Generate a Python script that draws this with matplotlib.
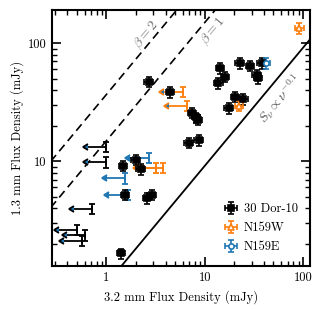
import matplotlib
matplotlib.use('Agg')
import matplotlib.pyplot as plt
import numpy as np
from matplotlib.ticker import FuncFormatter

plt.rcParams['font.family'] = 'serif'
plt.rcParams['font.serif'] = ['cmr10', 'DejaVu Serif']
plt.rcParams['mathtext.fontset'] = 'cm'
plt.rcParams['axes.formatter.use_mathtext'] = True
plt.rcParams['axes.unicode_minus'] = False

# 3.2 mm / 1.3 mm flux densities (mJy), detections
dor_x = [1.48, 2.25, 2.0, 1.56, 2.59, 2.91, 1.41, 2.69, 4.47, 7.5, 8.2, 8.6,
         6.86, 8.67, 14.4, 16.2, 13.8, 22.6, 29.0, 33.9, 35.0, 38.0, 20.5, 24.8, 17.5]
dor_y = [9.2, 8.55, 10.3, 5.2, 4.86, 5.18, 1.66, 47.3, 38.5, 25.6, 23.5, 22.5,
         14.4, 15.1, 61.4, 52.1, 45.8, 67.6, 64.2, 54.0, 50.5, 67.6, 35.2, 33.5, 28.1]
n159w_x = [22.5, 92.0]
n159w_y = [29.4, 134.0]
n159e_x = [42.3]
n159e_y = [67.6]

# upper limits in 3.2 mm flux
dor_ul_x = [1.0, 1.0, 0.715, 0.504, 0.61, 0.566]
dor_ul_y = [13.3, 9.8, 3.94, 2.62, 2.37, 2.12]
n159w_ul_x = [6.0, 6.6, 3.2, 3.75]
n159w_ul_y = [38.9, 29.6, 8.8, 8.8]
n159e_ul_x = [2.69, 1.56, 1.65]
n159e_ul_y = [10.7, 7.2, 5.2]

frac_err = 0.1
arrow_frac = 0.35

black = 'k'
orange = '#ff7f0e'
blue = '#1f77b4'

fig = plt.figure(figsize=(3.22, 3.10), dpi=100)
ax = fig.add_axes([0.1615, 0.142, 0.8015, 0.826])
ax.set_xscale('log')
ax.set_yscale('log')
ax.set_xlim(0.28, 118)
ax.set_ylim(1.3, 191)

# reference lines
xx = np.array([0.1, 300.])
ratio = 3.2 / 1.3
ax.plot(xx, xx * ratio**4, 'k--', lw=1.2, dashes=(5, 3))
ax.plot(xx, xx * ratio**3, 'k--', lw=1.2, dashes=(5, 3))
ax.plot(xx, xx * ratio**-0.1, 'k-', lw=1.3)

ax.text(2.55, 117, r'$\beta = 2$', rotation=50, ha='center', va='center',
        rotation_mode='anchor', fontsize=10, color='0.45')
ax.text(12.2, 127, r'$\beta = 1$', rotation=50, ha='center', va='center',
        rotation_mode='anchor', fontsize=10, color='0.45')
ax.text(59, 34, r'$S_\nu \propto \nu^{-0.1}$', rotation=50, ha='center', va='center',
        rotation_mode='anchor', fontsize=10, color='0.35')


def detections(x, y, color, marker, mfc, label):
    x = np.array(x)
    y = np.array(y)
    ax.errorbar(x, y, xerr=frac_err * x, yerr=frac_err * y, fmt=marker, color=color,
                mfc=mfc, mec=color, ms=3.8, mew=1.2, elinewidth=1.2, capsize=2,
                capthick=1.2, label=label, zorder=5)


def upper_limits(x, y, color):
    x = np.array(x)
    y = np.array(y)
    ax.errorbar(x, y, xerr=arrow_frac * x, yerr=frac_err * y, xuplims=True,
                fmt='none', ecolor=color, elinewidth=1.3, capsize=2.5,
                capthick=1.3, zorder=4)


upper_limits(dor_ul_x, dor_ul_y, black)
upper_limits(n159w_ul_x, n159w_ul_y, orange)
upper_limits(n159e_ul_x, n159e_ul_y, blue)

detections(dor_x, dor_y, black, 's', black, '30 Dor-10')
detections(n159w_x, n159w_y, orange, '^', 'white', 'N159W')
detections(n159e_x, n159e_y, blue, 'o', 'white', 'N159E')

fmt = FuncFormatter(lambda v, _: '%g' % v)
ax.xaxis.set_major_formatter(fmt)
ax.yaxis.set_major_formatter(fmt)
ax.tick_params(which='both', direction='in', top=True, right=True, labelsize=9)
ax.tick_params(which='major', length=6.5, width=1.2, pad=4)
ax.tick_params(which='minor', length=3.5, width=1.0)
for s in ax.spines.values():
    s.set_linewidth(1.5)

ax.set_xlabel('3.2 mm Flux Density (mJy)', fontsize=9, labelpad=5)
ax.set_ylabel('1.3 mm Flux Density (mJy)', fontsize=9, labelpad=3)

ax.legend(loc='lower right', frameon=False, fontsize=9, handletextpad=0.5,
          borderaxespad=0.6, labelspacing=0.55, handlelength=1.0)

fig.savefig('out.png', dpi=100)
